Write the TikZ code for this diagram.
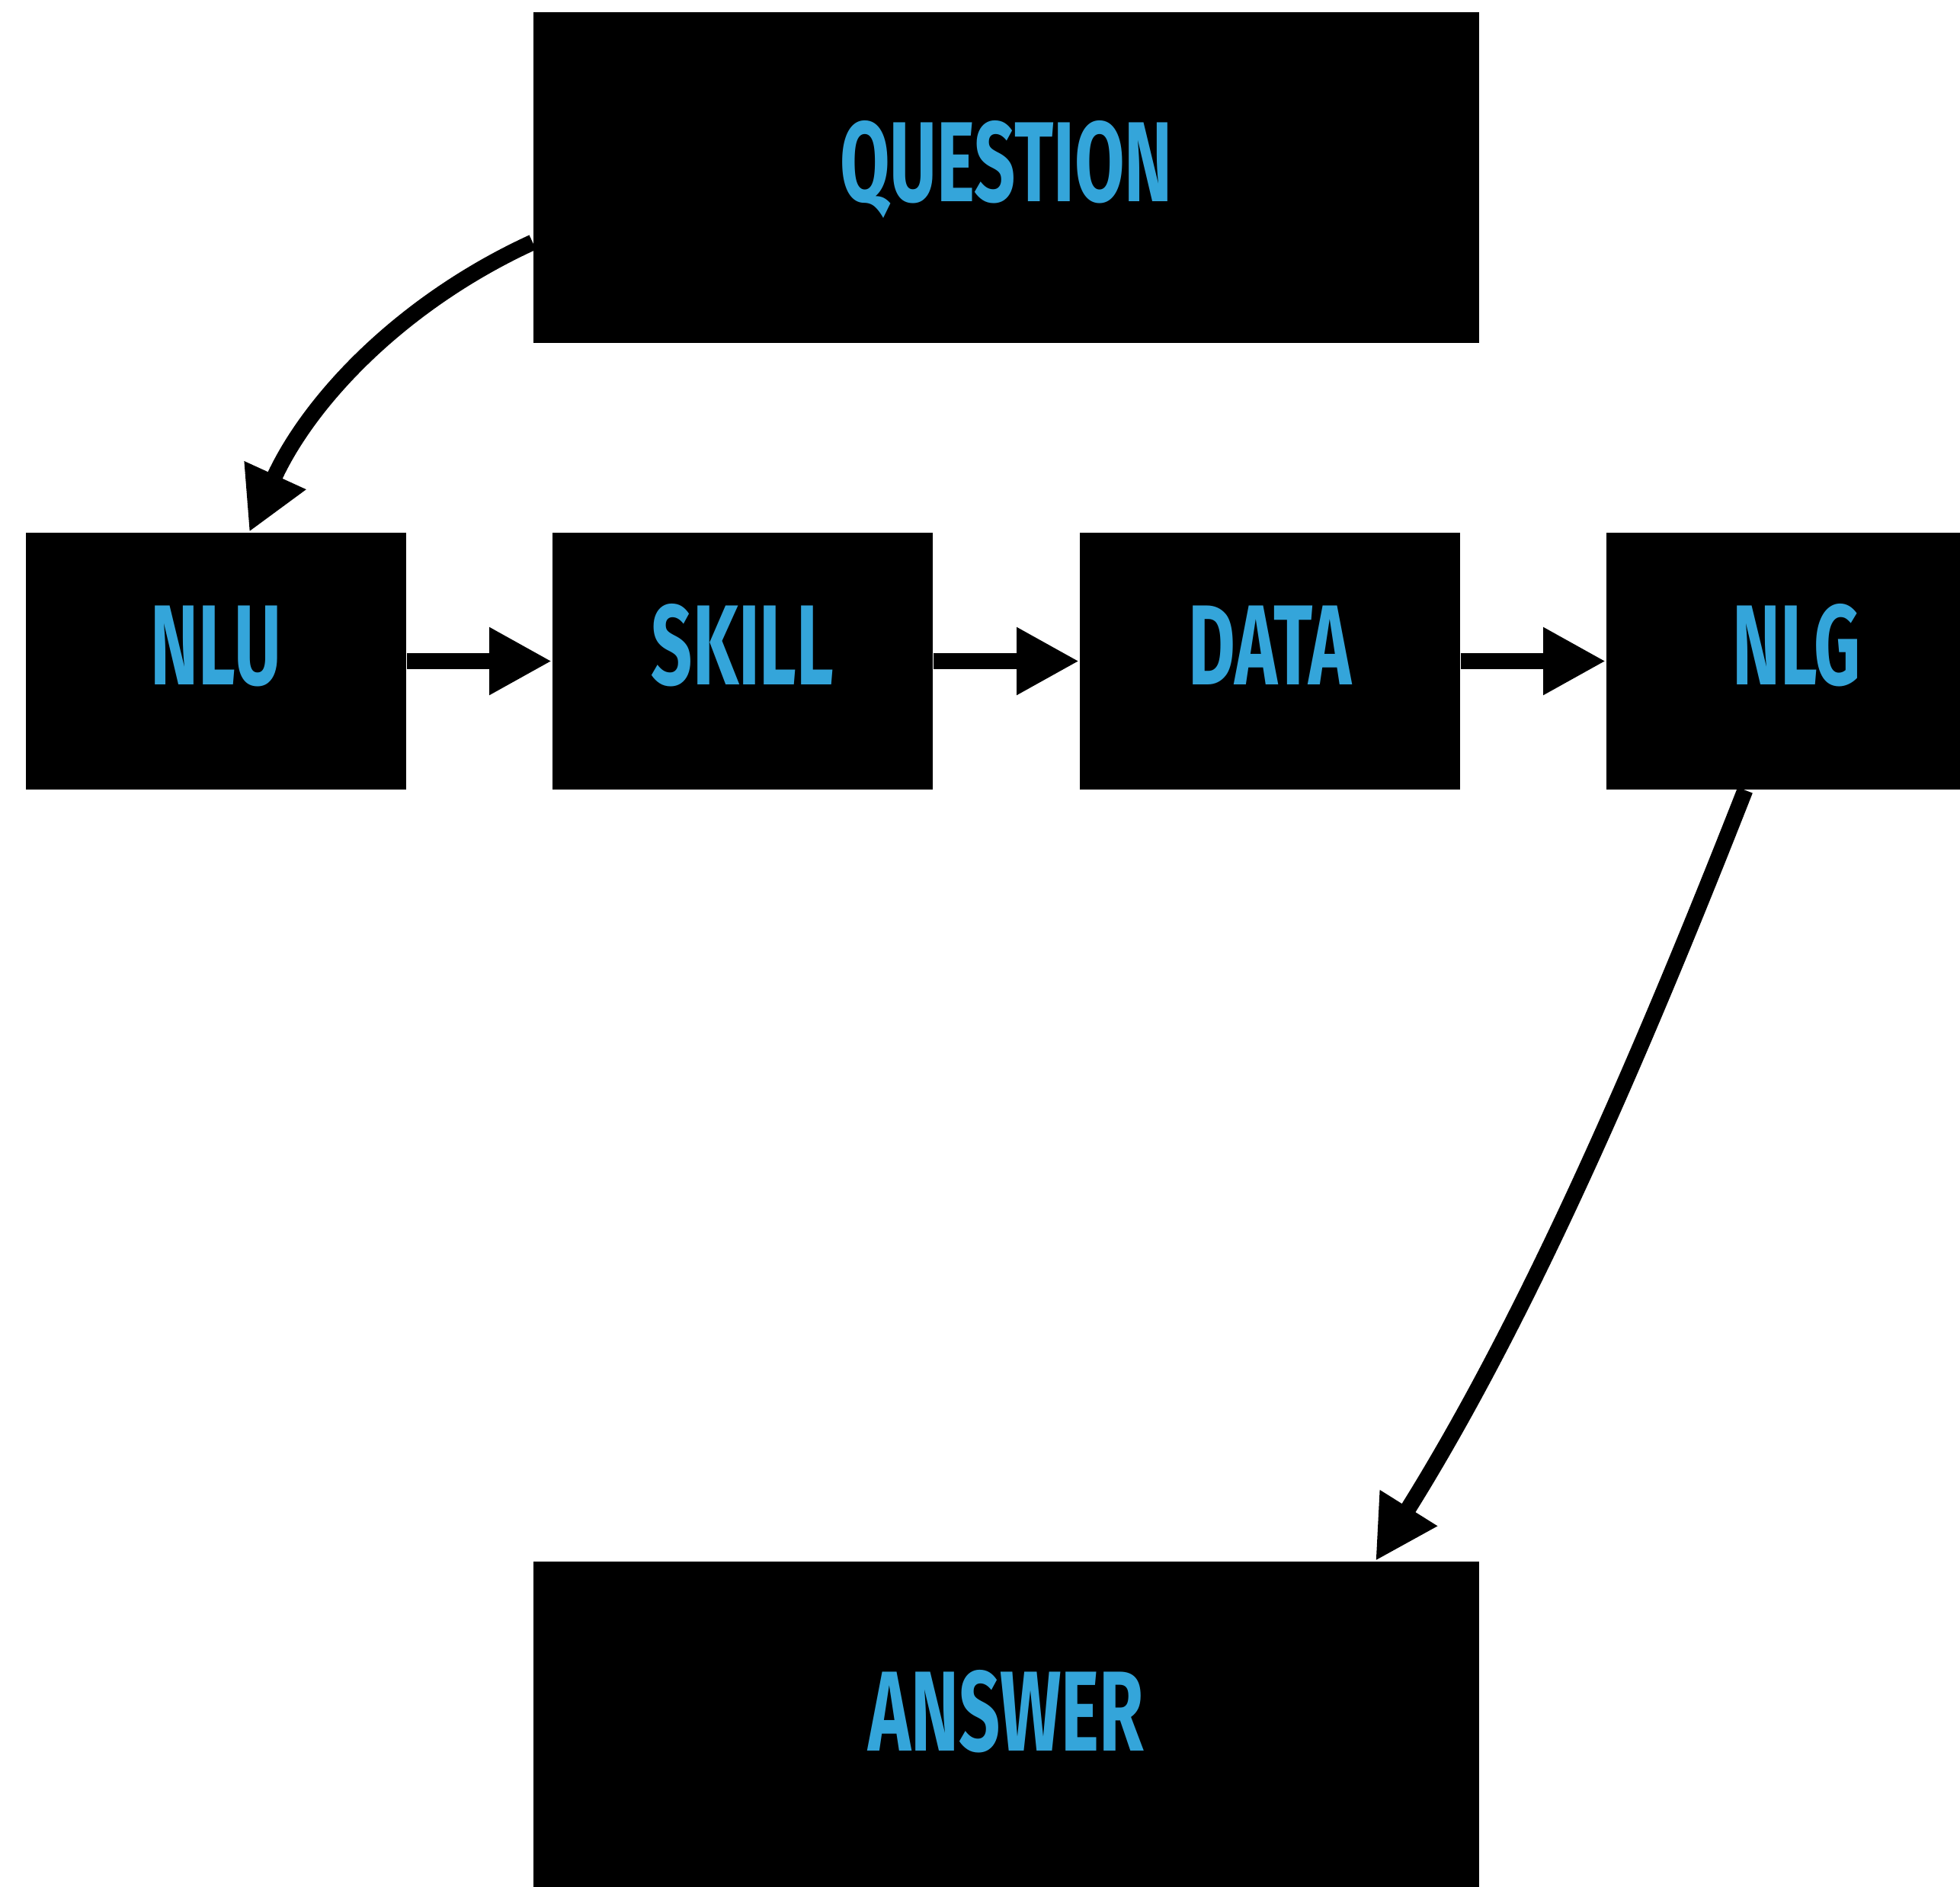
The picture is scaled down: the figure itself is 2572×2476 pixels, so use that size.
\documentclass[tikz,border=0pt]{standalone}
\usepackage{fontspec}
\usetikzlibrary{arrows.meta,calc}
\newfontfamily\dinfont{Fira Sans}[FakeStretch=0.635]
\definecolor{labelblue}{HTML}{34A5DA}
\begin{document}
\begin{tikzpicture}[x=0.01cm,y=-0.01cm,
  box/.style={fill=black, inner sep=0pt, minimum width=4.99cm, minimum height=3.37cm,
    text=labelblue, font=\dinfont\bfseries\fontsize{42.5pt}{50pt}\selectfont,
    text height=1.04cm, text depth=0.42cm},
  widebox/.style={box, minimum width=12.41cm, minimum height=4.34cm},
  flow/.style={line width=0.21cm, -{Triangle[length=0.82cm,width=0.83cm]}}]
\useasboundingbox (0,0) rectangle (2572,2476);
\clip (0,0) rectangle (2572,2476);
\node[widebox] (q) at (1320.5,233) {QUESTION};
\node[box] (nlu) at (283.5,867.5) {NLU};
\node[box] (skill) at (974.5,867.5) {SKILL};
\node[box] (data) at (1666.5,867.5) {DATA};
\node[box] (nlg) at (2357.5,867.5) {NLG};
\node[widebox] (ans) at (1320.5,2266) {ANSWER};
\draw[flow] (nlu.east) -- (skill.west);
\draw[flow] (skill.east) -- (data.west);
\draw[flow] (data.east) -- (nlg.west);
\draw[flow] ($(q.west)+(0,85)$) .. controls +(-170,78) and +(80,-175) .. ($(nlu.north)+(43.5,0)$);
\draw[flow] ($(nlg.south)+(-67.5,0)$) .. controls +(-137,349) and +(199,-318) .. ($(ans.north)+(484.5,0)$);
\end{tikzpicture}
\end{document}
